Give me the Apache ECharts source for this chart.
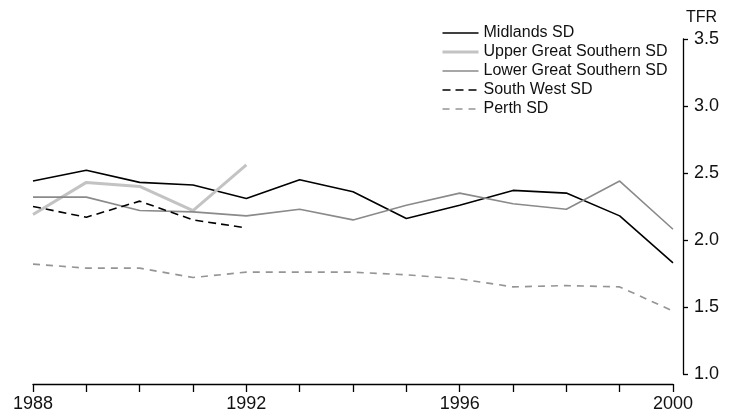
<!DOCTYPE html>
<html>
<head>
<meta charset="utf-8">
<script src="https://cdn.jsdelivr.net/npm/echarts@6/dist/echarts.min.js"></script>
<style>
  html, body { margin: 0; padding: 0; background: #fff; }
  #chart { width: 730px; height: 416px; }
</style>
</head>
<body>
<div id="chart"></div>
<script>
// Total fertility rate by statistical division, 1988-2000
const years = [1988, 1989, 1990, 1991, 1992, 1993, 1994, 1995, 1996, 1997, 1998, 1999, 2000];
const midlands = [2.44, 2.52, 2.43, 2.41, 2.31, 2.45, 2.36, 2.16, 2.26, 2.37, 2.35, 2.18, 1.83];
const upperGreatSouthern = [2.19, 2.43, 2.40, 2.22, 2.56];
const lowerGreatSouthern = [2.32, 2.32, 2.22, 2.21, 2.18, 2.23, 2.15, 2.26, 2.35, 2.27, 2.23, 2.44, 2.08];
const southWest = [2.25, 2.17, 2.29, 2.15, 2.09];
const perth = [1.82, 1.79, 1.79, 1.72, 1.76, 1.76, 1.76, 1.74, 1.71, 1.65, 1.66, 1.65, 1.47];
const yTicks = [1.0, 1.5, 2.0, 2.5, 3.0, 3.5];
const xLabelYears = [1988, 1992, 1996, 2000];

const FONT = 'Liberation Sans, Arial, sans-serif';

// name, values, colour, width, dash
const seriesDefs = [
  ['Midlands SD', midlands, '#000000', 1.6, 'solid'],
  ['Upper Great Southern SD', upperGreatSouthern, '#c3c3c3', 3, 'solid'],
  ['Lower Great Southern SD', lowerGreatSouthern, '#8a8a8a', 1.6, 'solid'],
  ['South West SD', southWest, '#000000', 1.6, [8, 5]],
  ['Perth SD', perth, '#959595', 1.6, [7, 6]]
];

function pairs(values) {
  return values.map((v, i) => [years[i], v]);
}

function lineSeries(def) {
  const [name, values, color, width, type] = def;
  return {
    name: name,
    type: 'line',
    data: pairs(values),
    symbol: 'none',
    silent: true,
    animation: false,
    lineStyle: { color: color, width: width, type: type, cap: 'butt' },
    itemStyle: { color: color }
  };
}

const chart = echarts.init(document.getElementById('chart'), null, { renderer: 'canvas' });
chart.setOption({
  backgroundColor: '#ffffff',
  animation: false,
  grid: { left: 33, right: 57, top: 39, bottom: 42, containLabel: false },
  legend: {
    orient: 'vertical',
    left: 436,
    top: 20,
    itemWidth: 36,
    itemHeight: 12,
    itemGap: 3,
    selectedMode: false,
    // keys show only the line sample, no point marker
    itemStyle: { opacity: 0, borderWidth: 0 },
    textStyle: { fontFamily: FONT, fontSize: 16, color: '#111', lineHeight: 12 },
    data: seriesDefs.map(d => ({
      name: d[0],
      lineStyle: { color: d[2], width: d[3], type: d[4] }
    }))
  },
  xAxis: {
    type: 'value',
    min: 1988,
    max: 2000,
    interval: 1,
    offset: 10,
    axisLine: { show: true, lineStyle: { color: '#000', width: 1.3 } },
    axisTick: { show: true, inside: false, length: 8, lineStyle: { color: '#000', width: 1.3 } },
    splitLine: { show: false },
    axisLabel: {
      margin: 11,
      fontFamily: FONT,
      fontSize: 18,
      color: '#111',
      formatter: v => (xLabelYears.indexOf(v) >= 0 ? String(v) : '')
    }
  },
  yAxis: {
    type: 'value',
    position: 'right',
    min: yTicks[0],
    max: yTicks[yTicks.length - 1],
    interval: 0.5,
    offset: 10,
    name: 'TFR',
    nameLocation: 'end',
    nameGap: 13,
    nameTextStyle: { fontFamily: FONT, fontSize: 16, color: '#111', align: 'left', padding: [0, 0, 0, 3] },
    axisLine: { show: true, lineStyle: { color: '#000', width: 1.3 } },
    axisTick: { show: true, inside: false, length: 5, lineStyle: { color: '#000', width: 1.3 } },
    splitLine: { show: false },
    axisLabel: {
      margin: 11,
      fontFamily: FONT,
      fontSize: 18,
      color: '#111',
      formatter: v => v.toFixed(1)
    }
  },
  series: seriesDefs.map(lineSeries)
});
</script>
</body>
</html>
